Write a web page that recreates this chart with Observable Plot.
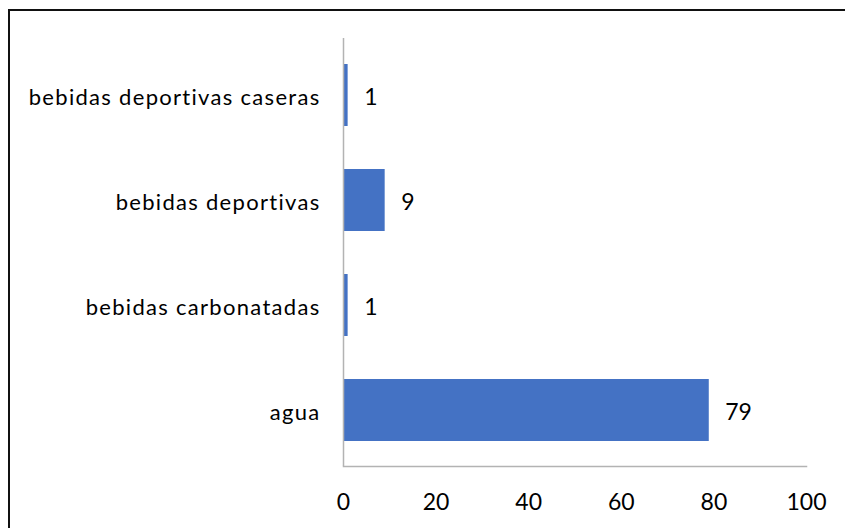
<!DOCTYPE html>
<html>
<head>
<meta charset="utf-8">
<script src="https://cdn.jsdelivr.net/npm/d3@7"></script>
<script src="https://cdn.jsdelivr.net/npm/@observablehq/plot@0.6"></script>
<style>
  html, body { margin: 0; padding: 0; background: #fff; }
  #wrap { position: relative; width: 845px; height: 528px; overflow: hidden; }
  #border { position: absolute; left: 8px; top: 9px; width: 900px; height: 600px;
            border-top: 2px solid #111; border-left: 2px solid #111; box-sizing: border-box; }
  #chart { position: absolute; left: 0; top: 0; }
  g[aria-label="y-axis tick label"] text { letter-spacing: 1.3px; }
</style>
</head>
<body>
<div id="wrap"><div id="border"></div><div id="chart"></div></div>
<script>
const categories = ["bebidas deportivas caseras", "bebidas deportivas", "bebidas carbonatadas", "agua"];
const values = [1, 9, 1, 79];
const xTicks = [0, 20, 40, 60, 80, 100];

const data = categories.map((c, i) => ({category: c, value: values[i]}));
const font = "Lato, 'Open Sans', sans-serif";

const chart = Plot.plot({
  width: 845,
  height: 528,
  marginLeft: 343,
  marginRight: 39,
  marginTop: 38,
  marginBottom: 62,
  style: {fontFamily: font, fontSize: "22px", color: "#000", background: "transparent"},
  x: {domain: [0, 100], ticks: xTicks, tickSize: 0, tickPadding: 27, label: null},
  y: {domain: categories, paddingInner: 0.41, paddingOuter: 0.24, tickSize: 0, tickPadding: 23, label: null},
  marks: [
    Plot.barX(data, {y: "category", x: "value", fill: "#4472C4"}),
    Plot.ruleX([0], {stroke: "#b3b3b3", strokeWidth: 1.5}),
    Plot.frame({anchor: "bottom", stroke: "#b3b3b3", strokeWidth: 1.5}),
    Plot.text(data, {y: "category", x: "value", text: d => String(d.value), textAnchor: "start", dx: 16, dy: 2, fontSize: 23, fill: "#000"}),
    Plot.axisX({ticks: xTicks, tickSize: 0, tickPadding: 27, fontSize: 23, label: null}),
    Plot.axisY({tickSize: 0, tickPadding: 23, fontSize: 22, dy: 2, label: null})
  ]
});
document.getElementById("chart").appendChild(chart);
</script>
</body>
</html>
